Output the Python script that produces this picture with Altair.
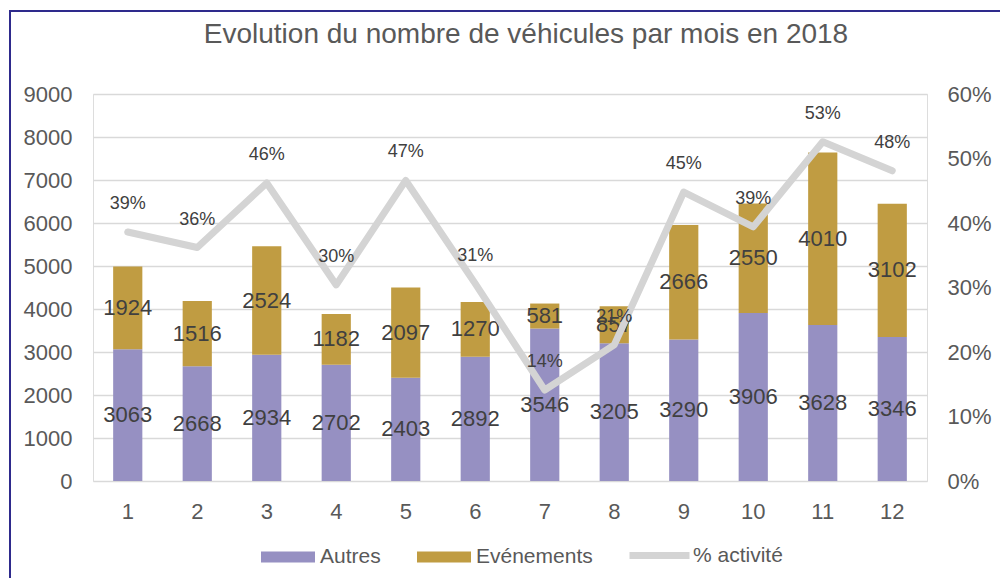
import altair as alt
import pandas as pd

months = [1, 2, 3, 4, 5, 6, 7, 8, 9, 10, 11, 12]
autres = [3063, 2668, 2934, 2702, 2403, 2892, 3546, 3205, 3290, 3906, 3628, 3346]
evenements = [1924, 1516, 2524, 1182, 2097, 1270, 581, 857, 2666, 2550, 4010, 3102]
activite = [0.386, 0.362, 0.462, 0.304, 0.466, 0.306, 0.141, 0.211, 0.448, 0.394, 0.526, 0.481]
series = ["Autres", "Evénements"]
line_name = "% activité"
title_text = "Evolution du nombre de véhicules par mois en 2018"

FONT = "Liberation Sans"
C_AUTRES = "#9690C2"
C_EVEN = "#C09C42"
C_LINE = "#D4D4D4"
TXT = "#595959"
LBL = "#404040"

rows = []
for m, a, e in zip(months, autres, evenements):
    rows.append({"month": m, "serie": series[0], "value": a, "ord": 0})
    rows.append({"month": m, "serie": series[1], "value": e, "ord": 1})
bars_df = pd.DataFrame(rows)
line_df = pd.DataFrame({"month": months, "pct": activite, "serie": [line_name] * len(months)})
frame_df = pd.DataFrame({"k": [0]})

W, H = 834, 387

xscale = alt.Scale(paddingInner=0.58, paddingOuter=0.29)
xenc = alt.X("month:O", scale=xscale, title=None,
             axis=alt.Axis(labelAngle=0, labelFontSize=22, labelColor=TXT, labelFont=FONT,
                           domain=False, ticks=False, labelPadding=20, grid=False))
yscale = alt.Scale(domain=[0, 9000], nice=False, zero=True)

base_b = alt.Chart(bars_df)
bars = base_b.mark_bar().encode(
    x=xenc,
    y=alt.Y("value:Q", stack="zero", scale=yscale, title=None,
            axis=alt.Axis(values=list(range(0, 9001, 1000)), format="d", labelFontSize=22,
                          labelColor=TXT, labelFont=FONT, domain=False, ticks=False,
                          labelPadding=21, grid=True, gridColor="#D9D9D9", gridWidth=1.5)),
    color=alt.Color("serie:N", scale=alt.Scale(domain=series, range=[C_AUTRES, C_EVEN]),
                    legend=alt.Legend(title=None, orient="none", direction="horizontal",
                                      legendX=168, legendY=436, padding=0,
                                      symbolType="M-1,-0.2H1V0.2H-1Z", symbolSize=2916,
                                      symbolStrokeWidth=0, labelFontSize=21, labelColor=TXT,
                                      labelFont=FONT, labelOffset=5, columnPadding=36)),
    order=alt.Order("ord:Q", sort="ascending"),
)
bar_text = base_b.transform_stack(
    stack="value", groupby=["month"], as_=["y0", "y1"], sort=[alt.SortField("ord", order="ascending")]
).transform_calculate(mid="(datum.y0 + datum.y1) / 2").mark_text(
    font=FONT, fontSize=22, color=LBL, baseline="middle", align="center"
).encode(
    x=alt.X("month:O", scale=xscale),
    y=alt.Y("mid:Q", scale=yscale),
    text=alt.Text("value:Q", format="d"),
)
left = alt.layer(bars, bar_text)

pscale = alt.Scale(domain=[0, 0.6], nice=False)
base_l = alt.Chart(line_df)
line = base_l.mark_line(strokeWidth=7, strokeCap="round", strokeJoin="round").encode(
    x=alt.X("month:O", scale=xscale),
    y=alt.Y("pct:Q", scale=pscale, title=None,
            axis=alt.Axis(orient="right", values=[0, 0.1, 0.2, 0.3, 0.4, 0.5, 0.6], format=".0%",
                          labelFontSize=22, labelColor=TXT, labelFont=FONT, domain=False,
                          ticks=False, labelPadding=20, grid=False)),
    stroke=alt.Stroke("serie:N", scale=alt.Scale(domain=[line_name], range=[C_LINE]),
                      legend=alt.Legend(title=None, orient="none", legendX=533, legendY=428, padding=0,
                                        symbolType="stroke", symbolSize=3600, symbolStrokeWidth=7,
                                        labelFontSize=21, labelColor=TXT, labelFont=FONT,
                                        labelOffset=0)),
)
line_text = base_l.mark_text(font=FONT, fontSize=18, color=LBL, baseline="middle",
                             align="center", dy=-28).encode(
    x=alt.X("month:O", scale=xscale),
    y=alt.Y("pct:Q", scale=pscale),
    text=alt.Text("pct:Q", format=".0%"),
)
right = alt.layer(line, line_text)

frame = alt.Chart(frame_df).mark_rect(fill=None, stroke="#2E2A8C", strokeWidth=2).encode(
    x=alt.value(-83), x2=alt.value(1200), y=alt.value(-83), y2=alt.value(800)
)

chart = alt.layer(left, right, frame).resolve_scale(y="independent").properties(
    width=W, height=H,
    title=alt.Title(title_text, fontSize=28, font=FONT, color=TXT, fontWeight="normal",
                    anchor="middle", frame="group", baseline="alphabetic", dx=16, dy=61, offset=0),
    autosize=alt.AutoSizeParams(type="none"),
    padding={"left": 85, "top": 86, "right": 73, "bottom": 97},
).configure_view(stroke=None).configure(background="white")

chart.save("out.html", embed_options={"renderer": "svg", "actions": False})
